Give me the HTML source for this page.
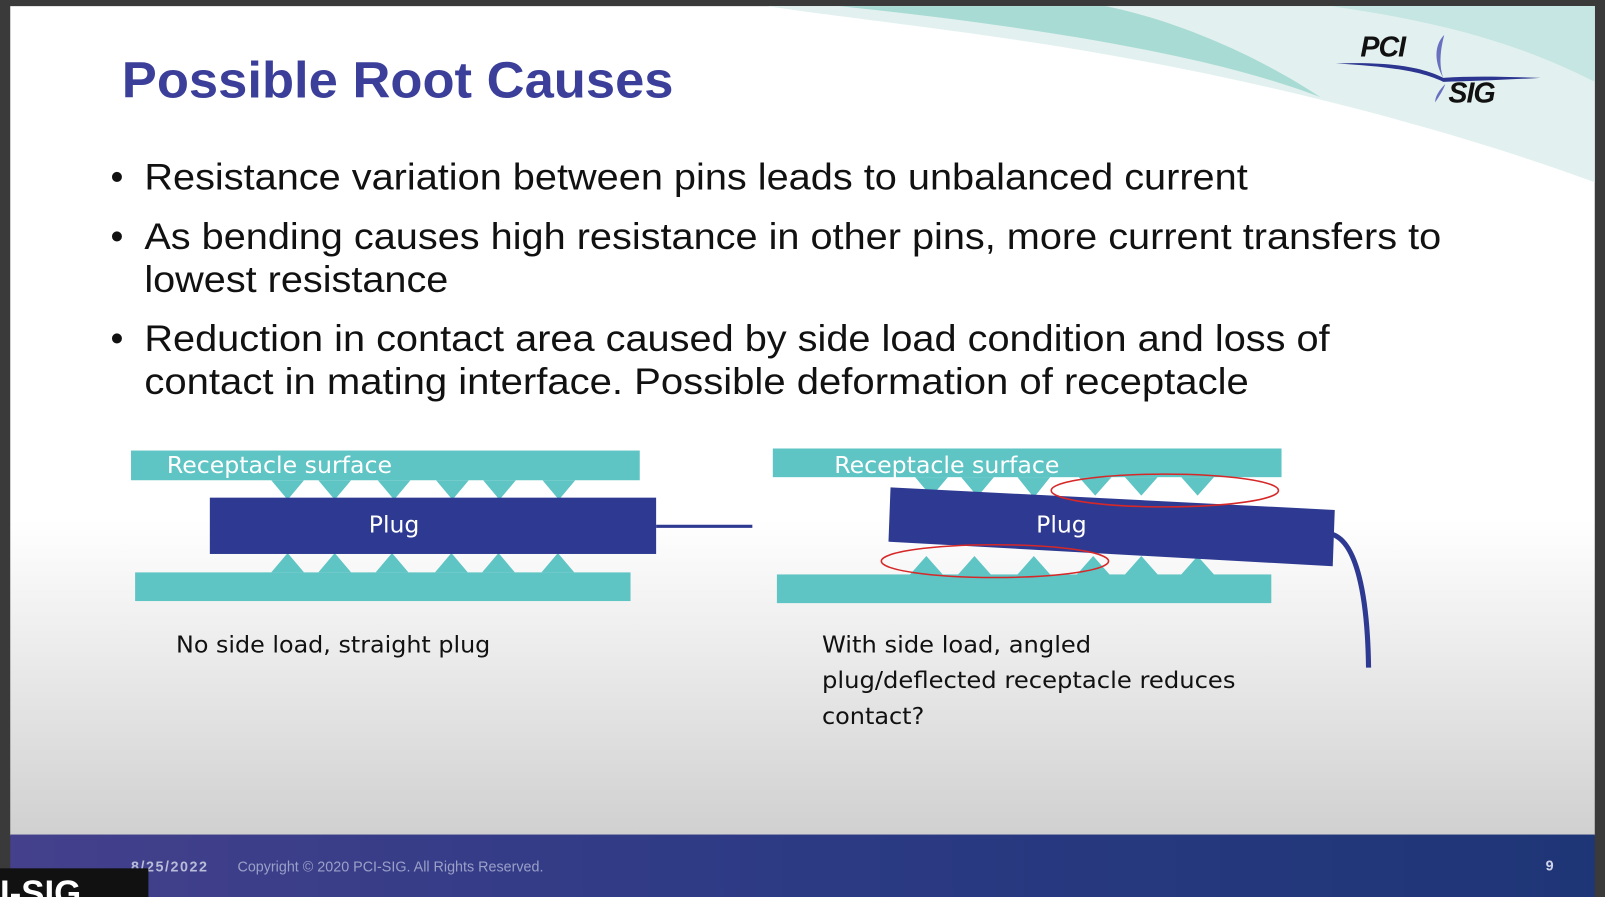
<!DOCTYPE html>
<html><head><meta charset="utf-8"><style>
html,body{margin:0;padding:0;background:#3a3a3a;overflow:hidden}
svg{display:block}
</style></head><body>
<svg width="1605" height="897" viewBox="0 0 1568 876" preserveAspectRatio="none" xmlns="http://www.w3.org/2000/svg" font-family="Liberation Sans, Arial, sans-serif">
<defs>
<linearGradient id="bg" x1="0" y1="0" x2="0" y2="1">
<stop offset="0" stop-color="#ffffff"/><stop offset="0.62" stop-color="#ffffff"/><stop offset="1" stop-color="#d0d0d0"/>
</linearGradient>
<linearGradient id="ft" x1="0" y1="0" x2="1" y2="0">
<stop offset="0" stop-color="#44408c"/><stop offset="0.5" stop-color="#2c3a84"/><stop offset="1" stop-color="#1e3576"/>
</linearGradient>
</defs>
<rect x="0" y="0" width="1568" height="876" fill="#3a3a3a"/>
<rect x="10" y="6" width="1548" height="810" fill="url(#bg)"/>
<path d="M750,6 L1558,6 L1558,178 C1400,120 1200,70 1000,40 C900,25 800,14 750,6 Z" fill="#e2f1ef"/>
<path d="M820,6 L1080,6 C1150,20 1230,55 1290,95 C1200,60 1050,30 820,6 Z" fill="#a9dbd5"/>
<path d="M1300,6 L1558,6 L1558,80 C1480,40 1400,20 1300,6 Z" fill="#c5e6e2"/>
<text x="1329" y="55" font-size="28" font-weight="bold" font-style="italic" fill="#111" letter-spacing="-1">PCI</text>
<text x="1415" y="100" font-size="28" font-weight="bold" font-style="italic" fill="#111" letter-spacing="-1">SIG</text>
<path d="M1305,62 C1360,60 1390,66 1410,76 C1440,74 1470,75 1505,76 C1470,78 1440,79 1410,80 C1390,70 1360,65 1305,62 Z" fill="#2c3590"/>
<path d="M1411,34 C1400,45 1402,62 1410,76 C1405,62 1408,45 1411,34 Z" fill="#6a70c0"/>
<path d="M1412,82 C1406,88 1402,94 1402,100 C1406,94 1410,88 1412,82 Z" fill="#6a70c0"/>
<text x="119" y="95" font-size="50" font-weight="bold" fill="#3b3f99" textLength="539" lengthAdjust="spacingAndGlyphs">Possible Root Causes</text>
<g font-size="36" fill="#111">
<text x="108" y="185">•</text>
<text x="141" y="185" textLength="1078" lengthAdjust="spacingAndGlyphs">Resistance variation between pins leads to unbalanced current</text>
<text x="108" y="243">•</text>
<text x="141" y="243" textLength="1267" lengthAdjust="spacingAndGlyphs">As bending causes high resistance in other pins, more current transfers to</text>
<text x="141" y="285" textLength="297" lengthAdjust="spacingAndGlyphs">lowest resistance</text>
<text x="108" y="343">•</text>
<text x="141" y="343" textLength="1158" lengthAdjust="spacingAndGlyphs">Reduction in contact area caused by side load condition and loss of</text>
<text x="141" y="385" textLength="1079" lengthAdjust="spacingAndGlyphs">contact in mating interface.  Possible deformation of receptacle</text>
</g>
<g fill="#5ec4c4">
<rect x="128" y="440" width="497" height="29"/>
<rect x="132" y="559" width="484" height="28"/>
<path d="M265,469 L297,469 L281,488 Z M311,469 L343,469 L327,488 Z M369,469 L401,469 L385,488 Z M426,469 L458,469 L442,488 Z M472,469 L504,469 L488,488 Z M530,469 L562,469 L546,488 Z"/>
<path d="M265,559 L297,559 L281,540 Z M311,559 L343,559 L327,540 Z M367,559 L399,559 L383,540 Z M425,559 L457,559 L441,540 Z M471,559 L503,559 L487,540 Z M529,559 L561,559 L545,540 Z"/>
</g>
<rect x="205" y="486" width="436" height="55" fill="#2e3a91"/>
<line x1="641" y1="514" x2="735" y2="514" stroke="#2e3a91" stroke-width="3"/>
<g font-family="DejaVu Sans, Liberation Sans, sans-serif">
<text x="163" y="462" font-size="23" fill="#fff" textLength="220" lengthAdjust="spacingAndGlyphs">Receptacle surface</text>
<text x="385" y="520" font-size="23" fill="#fff" text-anchor="middle">Plug</text>
<text x="172" y="637" font-size="23" fill="#111" textLength="307" lengthAdjust="spacingAndGlyphs">No side load, straight plug</text>
</g>
<g fill="#5ec4c4">
<rect x="755" y="438" width="497" height="28"/>
<rect x="759" y="561" width="483" height="28"/>
<path d="M894,466 L926,466 L910,485 Z M939,466 L971,466 L955,485 Z M994,466 L1026,466 L1010,486 Z M1054,466 L1086,466 L1070,484 Z M1099,466 L1131,466 L1115,484 Z M1154,466 L1186,466 L1170,484 Z"/>
<path d="M889,561 L921,561 L905,543 Z M936,561 L968,561 L952,543 Z M994,561 L1026,561 L1010,543 Z M1052,561 L1084,561 L1068,543 Z M1099,561 L1131,561 L1115,543 Z M1154,561 L1186,561 L1170,543 Z"/>
</g>
<polygon points="870,476 1304,498 1302,553 868,529" fill="#2e3a91"/>
<path d="M1302,522 C1325,530 1336,580 1337,652" fill="none" stroke="#2e3a91" stroke-width="5"/>
<ellipse cx="1138" cy="479" rx="111" ry="16" fill="none" stroke="#d62828" stroke-width="1.5"/>
<ellipse cx="972" cy="548" rx="111" ry="16" fill="none" stroke="#d62828" stroke-width="1.5"/>
<g font-family="DejaVu Sans, Liberation Sans, sans-serif">
<text x="815" y="462" font-size="23" fill="#fff" textLength="220" lengthAdjust="spacingAndGlyphs">Receptacle surface</text>
<text x="1037" y="520" font-size="23" fill="#fff" text-anchor="middle">Plug</text>
<g font-size="23" fill="#111">
<text x="803" y="637" textLength="263" lengthAdjust="spacingAndGlyphs">With side load, angled</text>
<text x="803" y="672" textLength="404" lengthAdjust="spacingAndGlyphs">plug/deflected receptacle reduces</text>
<text x="803" y="707" textLength="100" lengthAdjust="spacingAndGlyphs">contact?</text>
</g>
</g>
<rect x="10" y="815" width="1548" height="61" fill="url(#ft)"/>
<text x="128" y="851" font-size="14" font-weight="bold" fill="#b8bcd8" letter-spacing="1.5">8/25/2022</text>
<text x="232" y="851" font-size="14" fill="#9aa0c8">Copyright © 2020 PCI-SIG. All Rights Reserved.</text>
<text x="1510" y="850" font-size="14" font-weight="bold" fill="#d0d4ea">9</text>
<rect x="0" y="848" width="145" height="28" fill="#111"/>
<text x="0" y="884" font-size="34" font-weight="bold" fill="#fff">I-SIG</text>
</svg>
</body></html>
